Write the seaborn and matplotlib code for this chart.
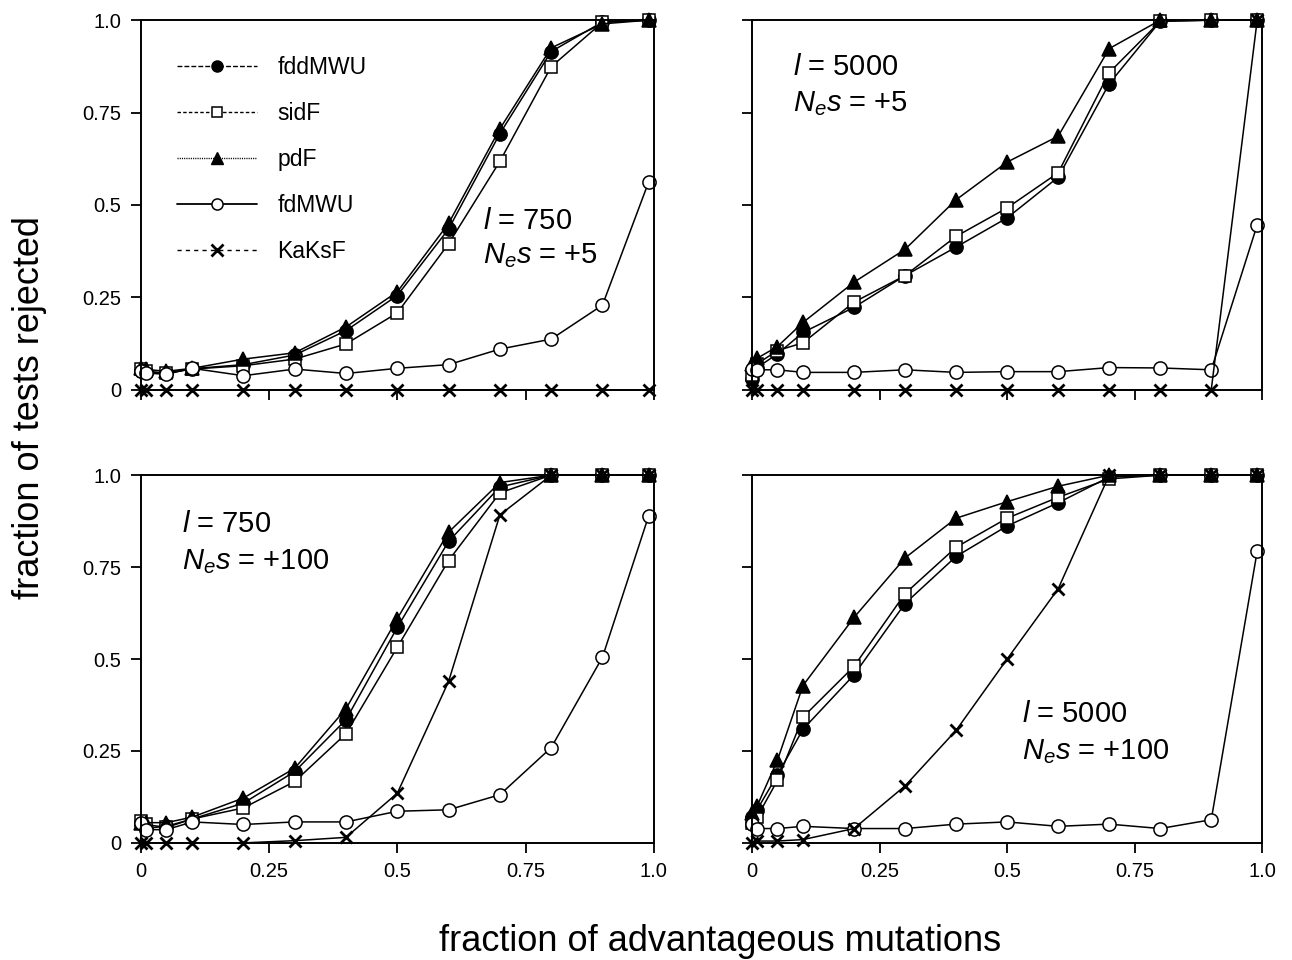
import matplotlib
matplotlib.use("Agg")
import matplotlib.pyplot as plt
import seaborn as sns
from matplotlib.lines import Line2D

frac_adv = [0, 0.01, 0.05, 0.1, 0.2, 0.3, 0.4, 0.5, 0.6, 0.7, 0.8, 0.9, 0.99]
tests = ["fddMWU", "sidF", "pdF", "fdMWU", "KaKsF"]

# l = 750, Nes = +5
fddmwu_750_5 = [0.05, 0.048, 0.045, 0.057, 0.068, 0.094, 0.16, 0.255, 0.435, 0.693, 0.915, 0.995, 1.0]
sidf_750_5 = [0.055, 0.05, 0.045, 0.056, 0.065, 0.083, 0.124, 0.208, 0.395, 0.618, 0.874, 0.994, 1.0]
pdf_750_5 = [0.06, 0.055, 0.05, 0.058, 0.083, 0.1, 0.17, 0.265, 0.45, 0.706, 0.925, 0.99, 1.0]
fdmwu_750_5 = [0.05, 0.045, 0.042, 0.058, 0.038, 0.056, 0.044, 0.058, 0.068, 0.11, 0.137, 0.229, 0.562]
kaksf_750_5 = [0, 0, 0, 0, 0, 0, 0, 0, 0, 0, 0, 0, 0]

# l = 5000, Nes = +5
fddmwu_5000_5 = [0.03, 0.06, 0.097, 0.155, 0.223, 0.309, 0.386, 0.465, 0.575, 0.828, 0.997, 1.0, 1.0]
sidf_5000_5 = [0.04, 0.07, 0.106, 0.127, 0.237, 0.309, 0.415, 0.492, 0.587, 0.858, 0.997, 1.0, 1.0]
pdf_5000_5 = [0.07, 0.085, 0.117, 0.182, 0.291, 0.38, 0.514, 0.616, 0.686, 0.923, 1.0, 1.0, 1.0]
fdmwu_5000_5 = [0.055, 0.054, 0.054, 0.047, 0.047, 0.054, 0.047, 0.049, 0.049, 0.06, 0.059, 0.054, 0.446]
kaksf_5000_5 = [0, 0, 0, 0, 0, 0, 0, 0, 0, 0, 0, 0, 1.0]

# l = 750, Nes = +100
fddmwu_750_100 = [0.055, 0.04, 0.045, 0.065, 0.108, 0.194, 0.335, 0.586, 0.82, 0.968, 1.0, 1.0, 1.0]
sidf_750_100 = [0.06, 0.05, 0.042, 0.065, 0.095, 0.167, 0.297, 0.532, 0.768, 0.952, 1.0, 1.0, 1.0]
pdf_750_100 = [0.055, 0.055, 0.055, 0.07, 0.122, 0.203, 0.365, 0.61, 0.845, 0.98, 1.0, 1.0, 1.0]
fdmwu_750_100 = [0.054, 0.036, 0.036, 0.057, 0.05, 0.057, 0.057, 0.086, 0.09, 0.131, 0.259, 0.505, 0.889]
kaksf_750_100 = [0, 0, 0, 0, 0, 0.006, 0.015, 0.135, 0.439, 0.892, 1.0, 1.0, 1.0]

# l = 5000, Nes = +100
fddmwu_5000_100 = [0.07, 0.09, 0.185, 0.309, 0.457, 0.651, 0.779, 0.862, 0.925, 0.995, 1.0, 1.0, 1.0]
sidf_5000_100 = [0.055, 0.07, 0.17, 0.342, 0.48, 0.678, 0.804, 0.883, 0.94, 0.99, 1.0, 1.0, 1.0]
pdf_5000_100 = [0.08, 0.1, 0.225, 0.428, 0.613, 0.775, 0.883, 0.928, 0.97, 1.0, 1.0, 1.0, 1.0]
fdmwu_5000_100 = [0.051, 0.039, 0.039, 0.045, 0.039, 0.039, 0.051, 0.057, 0.045, 0.051, 0.039, 0.063, 0.793]
kaksf_5000_100 = [0, 0.005, 0.005, 0.009, 0.039, 0.155, 0.306, 0.5, 0.691, 1.0, 1.0, 1.0, 1.0]

tick_vals = [0, 0.25, 0.5, 0.75, 1.0]
tick_labels = ["0", "0.25", "0.5", "0.75", "1.0"]

sns.set_style("ticks")
plt.rcParams["font.family"] = ["Liberation Sans", "DejaVu Sans"]
plt.rcParams["mathtext.fontset"] = "custom"
plt.rcParams["mathtext.rm"] = "Liberation Sans"
plt.rcParams["mathtext.it"] = "Liberation Sans:italic"
plt.rcParams["text.color"] = "black"
plt.rcParams["axes.labelcolor"] = "black"
plt.rcParams["xtick.color"] = "black"
plt.rcParams["ytick.color"] = "black"

# marker, face colour, size, edge width
styles = {
    "fddMWU": ("o", "black", 9.5, 1.1),
    "sidF": ("s", "white", 9.0, 1.1),
    "pdF": ("^", "black", 10.0, 1.1),
    "fdMWU": ("o", "white", 9.5, 1.1),
    "KaKsF": ("x", "black", 8.0, 2.0),
}

panels = [
    ([0.109, 0.594, 0.397, 0.385], [fddmwu_750_5, sidf_750_5, pdf_750_5, fdmwu_750_5, kaksf_750_5],
     r"$l$ = 750", r"$N_es$ = +5", (0.667, 0.457), (0.667, 0.362), False, True),
    ([0.582, 0.594, 0.395, 0.385], [fddmwu_5000_5, sidf_5000_5, pdf_5000_5, fdmwu_5000_5, kaksf_5000_5],
     r"$l$ = 5000", r"$N_es$ = +5", (0.08, 0.872), (0.08, 0.775), False, False),
    ([0.109, 0.122, 0.397, 0.383], [fddmwu_750_100, sidf_750_100, pdf_750_100, fdmwu_750_100, kaksf_750_100],
     r"$l$ = 750", r"$N_es$ = +100", (0.08, 0.868), (0.08, 0.766), True, True),
    ([0.582, 0.122, 0.395, 0.383], [fddmwu_5000_100, sidf_5000_100, pdf_5000_100, fdmwu_5000_100, kaksf_5000_100],
     r"$l$ = 5000", r"$N_es$ = +100", (0.53, 0.35), (0.53, 0.248), True, False),
]

fig = plt.figure(figsize=(12.92, 9.6), dpi=100)

axes = []
for rect, series, t1, t2, p1, p2, show_x, show_y in panels:
    ax = fig.add_axes(rect)
    for name, vals in zip(tests, series):
        m, fc, ms, mew = styles[name]
        sns.lineplot(x=frac_adv, y=vals, ax=ax, color="black", linewidth=1.1,
                     marker=m, markersize=ms, markerfacecolor=fc,
                     markeredgecolor="black", markeredgewidth=mew,
                     estimator=None, clip_on=False, legend=False)
    ax.set_xlim(0, 1)
    ax.set_ylim(0, 1)
    ax.set_xticks(tick_vals)
    ax.set_xticklabels(tick_labels)
    ax.set_yticks(tick_vals)
    ax.set_yticklabels(tick_labels)
    ax.tick_params(direction="out", length=7, width=1.3, labelsize=14.5, pad=7,
                   labelbottom=show_x, labelleft=show_y, color="black")
    for sp in ax.spines.values():
        sp.set_linewidth(1.4)
        sp.set_color("black")
    ax.text(p1[0], p1[1], t1, transform=ax.transAxes, fontsize=21, va="center", ha="left")
    ax.text(p2[0], p2[1], t2, transform=ax.transAxes, fontsize=21, va="center", ha="left")
    axes.append(ax)

# legend in the first panel
handles = [
    Line2D([], [], color="black", lw=1.0, linestyle=(0, (3.5, 1.5)), marker="o",
           markersize=8, mfc="black", mec="black"),
    Line2D([], [], color="black", lw=1.0, linestyle=(0, (2.5, 1.6)), marker="s",
           markersize=7.5, mfc="white", mec="black", mew=1.1),
    Line2D([], [], color="black", lw=1.0, linestyle=(0, (0.8, 0.8)), marker="^",
           markersize=9, mfc="black", mec="black"),
    Line2D([], [], color="black", lw=1.3, linestyle="-", marker="o",
           markersize=8, mfc="white", mec="black", mew=1.1),
    Line2D([], [], color="black", lw=1.0, linestyle=(0, (3, 3)), marker="x",
           markersize=8, mec="black", mew=2.0),
]
axes[0].legend(handles, tests, loc="upper left", bbox_to_anchor=(0.07, 0.903),
               frameon=False, fontsize=16.5, handlelength=3.5, handletextpad=0.9,
               labelspacing=1.0, borderaxespad=0, borderpad=0)

fig.text(0.023, 0.575, "fraction of tests rejected", rotation=90, fontsize=26,
         ha="center", va="center")
fig.text(0.557, 0.019, "fraction of advantageous mutations", fontsize=26,
         ha="center", va="center")

fig.savefig("out.png", dpi=100)
